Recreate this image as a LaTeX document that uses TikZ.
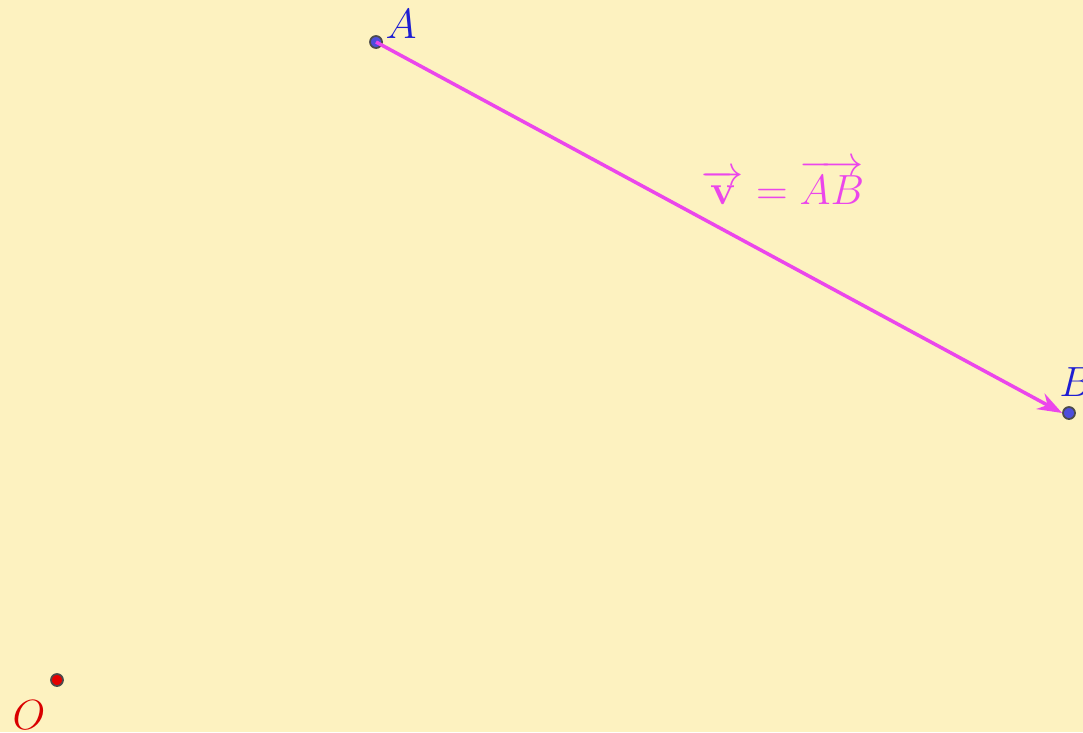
\documentclass[tikz,border=0pt]{standalone}
\usepackage{amsmath, amssymb}
\usepackage{tikz}
\usepackage{xcolor}
\usetikzlibrary{arrows.meta,positioning,calc}

\definecolor{bgyellow}{RGB}{253,242,192}
\definecolor{ptblue}{RGB}{77,77,220}
\definecolor{lblblue}{RGB}{30,30,210}
\definecolor{vecmag}{RGB}{235,70,235}

\begin{document}
\begin{tikzpicture}[
        pt/.style={circle, draw=black!70, fill=ptblue, line width=0.5pt,
                   minimum size=0.12cm, inner sep=0pt},
        ptlabel/.style={font=\fontsize{12}{14}\selectfont, text=lblblue, inner sep=0pt},
        vec/.style={line width=1pt, vecmag, -{Stealth[length=7pt, width=5pt]}}
    ]
        % Background
        \fill[bgyellow] (0,0) rectangle (10.83,7.32);
        \useasboundingbox (0,0) rectangle (10.83,7.32);

        % Points
        \node[pt] (A) at (3.76,6.90) {};
        \node[pt] (B) at (10.69,3.19) {};
        \node[pt, fill=red!90!black] (O) at (0.57,0.52) {};

        % Labels
        \node[ptlabel] (lA) at (4.01,7.08) {$A$};
        \node[ptlabel] (lB) at (10.76,3.50) {$B$};
        \node[ptlabel, text=red!85!black] (lO) at (0.29,0.17) {$O$};

        % Vector
        \draw[vec] (A.center) -- (B.west);
        \node[font=\fontsize{12}{14}\selectfont, text=vecmag] (eq) at (7.83,5.50)
            {$\overrightarrow{\mathbf{v}} = \overrightarrow{AB}$};
    \end{tikzpicture}
\end{document}
